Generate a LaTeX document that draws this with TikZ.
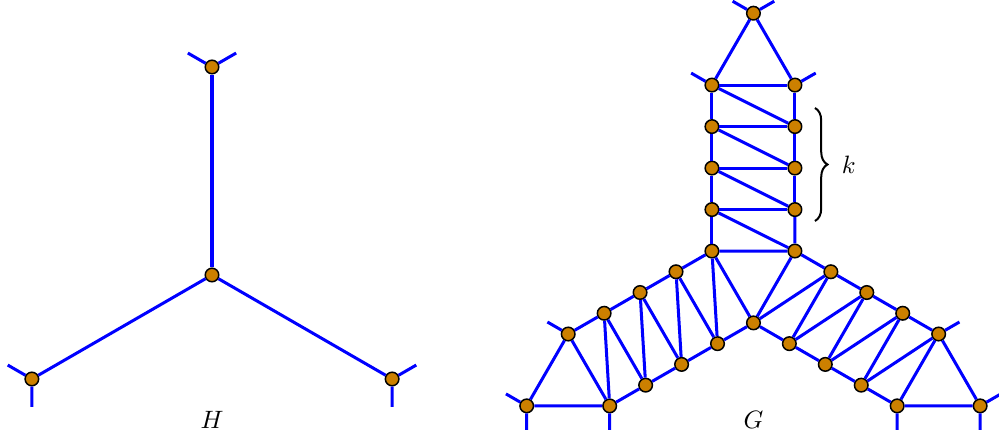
\documentclass[tikz,border=0pt]{standalone}
\usetikzlibrary{decorations.pathreplacing}
\definecolor{vertexfill}{RGB}{204,128,0}

\begin{document}
\begin{tikzpicture}[
	every node/.style = {font=\normalsize},
	vertex/.style     = {circle, draw=black, line width=0.6pt, fill=vertexfill,
	                     inner sep=0pt, minimum size=5.4pt},
	edge/.style       = {draw=blue, line width=1.2pt}
	]
	\useasboundingbox (-2.968,-2.31) rectangle (11.018,3.85);

	%--- H: nodes ---
	\node[vertex] (hc) at (0,0) {};
	\foreach \a/\n in {0/t,120/l,240/r} {
		\begin{scope}[rotate=\a]
			\node[vertex] (h\n) at (0,2.912) {};
			\coordinate (h\n-s1) at (-0.338,3.107);
			\coordinate (h\n-s2) at ( 0.338,3.107);
		\end{scope}
	}

	%--- H: edges ---
	\foreach \n in {t,l,r} {
		\draw[edge] (hc) -- (h\n);
		\draw[edge] (h\n) -- (h\n-s1);
		\draw[edge] (h\n) -- (h\n-s2);
	}

	%--- G: nodes (three arms, same up to rotation) ---
	\begin{scope}[shift={(7.58,0)}]
		\foreach \a/\n/\p in {0/t/l,120/l/r,240/r/t} {
			\begin{scope}[rotate=\a]
				\node[vertex, alias=\p R0] (\n L0) at (-0.581,0.335) {};
				\foreach \k in {1,...,4} {
					\node[vertex] (\n L\k) at (-0.581,{0.335+0.581*\k}) {};
					\node[vertex] (\n R\k) at ( 0.581,{0.335+0.581*\k}) {};
				}
				\node[vertex] (\n A) at (0,3.665) {};
				\coordinate (\n A-s1) at (-0.291,3.833);
				\coordinate (\n A-s2) at ( 0.291,3.833);
				\coordinate (\n L4-s) at (-0.872,2.827);
				\coordinate (\n R4-s) at ( 0.872,2.827);
			\end{scope}
		}
	\end{scope}

	%--- G: edges ---
	\foreach \n in {t,l,r} {
		\draw[edge] (\n L0) -- (\n R0);
		\foreach \j [count=\k] in {0,...,3} {
			\draw[edge] (\n L\j) -- (\n L\k);
			\draw[edge] (\n R\j) -- (\n R\k);
			\draw[edge] (\n L\k) -- (\n R\k);
			\draw[edge] (\n L\k) -- (\n R\j);
		}
		\draw[edge] (\n A) -- (\n L4);
		\draw[edge] (\n A) -- (\n R4);
		\draw[edge] (\n A) -- (\n A-s1);
		\draw[edge] (\n A) -- (\n A-s2);
		\draw[edge] (\n L4) -- (\n L4-s);
		\draw[edge] (\n R4) -- (\n R4-s);
	}

	%--- brace ---
	\coordinate (brtop) at (8.441,2.338);
	\coordinate (brbot) at (8.441,0.756);
	\draw[decorate, decoration={brace, amplitude=5pt}, line width=0.8pt]
		(brtop) -- (brbot) node[midway, right=7pt] (klab) {$k$};

	%--- labels ---
	\node[anchor=base] (labH) at (0,-2.156) {$H$};
	\node[anchor=base] (labG) at (7.58,-2.156) {$G$};
\end{tikzpicture}
\end{document}
